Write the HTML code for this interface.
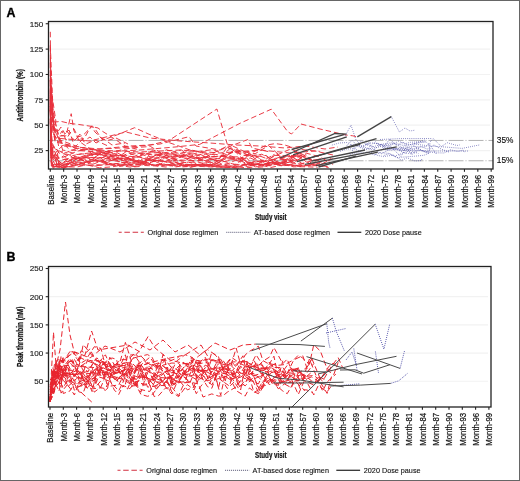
<!DOCTYPE html><html><head><meta charset="utf-8"><style>html,body{margin:0;padding:0;background:#fff;overflow:hidden;width:520px;height:481px;font-family:"Liberation Sans",sans-serif;}svg{display:block;will-change:transform;}</style></head><body><svg width="520" height="481" viewBox="0 0 520 481" font-family="&apos;Liberation Sans&apos;, sans-serif">
<rect x="0" y="0" width="520" height="481" fill="#fff"/>
<line x1="48.5" y1="150.60" x2="490" y2="150.60" stroke="#f2f2f2" stroke-width="1.2"/>
<line x1="48.5" y1="125.22" x2="490" y2="125.22" stroke="#f2f2f2" stroke-width="1.2"/>
<line x1="48.5" y1="99.85" x2="490" y2="99.85" stroke="#f2f2f2" stroke-width="1.2"/>
<line x1="48.5" y1="74.48" x2="490" y2="74.48" stroke="#f2f2f2" stroke-width="1.2"/>
<line x1="48.5" y1="49.10" x2="490" y2="49.10" stroke="#f2f2f2" stroke-width="1.2"/>
<line x1="48.5" y1="23.73" x2="490" y2="23.73" stroke="#f2f2f2" stroke-width="1.2"/>
<line x1="48.5" y1="381.25" x2="488" y2="381.25" stroke="#f2f2f2" stroke-width="1.2"/>
<line x1="48.5" y1="353.06" x2="488" y2="353.06" stroke="#f2f2f2" stroke-width="1.2"/>
<line x1="48.5" y1="324.88" x2="488" y2="324.88" stroke="#f2f2f2" stroke-width="1.2"/>
<line x1="48.5" y1="296.69" x2="488" y2="296.69" stroke="#f2f2f2" stroke-width="1.2"/>
<line x1="48.5" y1="268.51" x2="488" y2="268.51" stroke="#f2f2f2" stroke-width="1.2"/>
<line x1="48.5" y1="140.45" x2="493" y2="140.45" stroke="#a8a8a8" stroke-width="0.9" stroke-dasharray="15 2 1 2"/>
<line x1="48.5" y1="160.75" x2="493" y2="160.75" stroke="#a8a8a8" stroke-width="0.9" stroke-dasharray="15 2 1 2"/>
<text x="496.8" y="143.35" font-size="8.3" fill="#111" stroke="#111" stroke-width="0.15">35%</text>
<text x="496.8" y="163.05" font-size="8.3" fill="#111" stroke="#111" stroke-width="0.15">15%</text>
<polyline points="50.3,31.8 50.7,77.3 51.4,115.7 52.3,125.1 53.4,133.0 54.8,136.8 57.0,138.0 59.2,148.9 63.7,144.5 74.8,148.0 88.2,149.5 97.1,161.5 108.2,153.6 121.6,158.9 134.9,161.4 143.8,162.6 152.7,149.7 163.9,154.9 175.0,155.1 188.4,155.1 197.3,152.9 206.2,157.1 215.1,160.3 224.0,161.7 237.3,158.7 250.7,158.1 259.6,162.1 270.7,165.1 284.1,157.0 295.2,156.2 308.6,158.9 322.0,161.1" fill="none" stroke="#e8303c" stroke-width="0.95" stroke-dasharray="5.5 3"/>
<polyline points="50.3,46.1 50.7,131.4 51.4,161.9 52.3,165.6 53.4,164.5 54.8,164.4 57.0,165.5 59.2,165.7 63.7,162.3 74.8,159.5 88.2,155.6 99.3,153.2 112.6,160.9 126.0,151.8 139.4,157.1 152.7,161.6 166.1,149.7 179.4,153.6 192.8,150.3 206.2,154.0 217.3,162.1 228.4,144.9 237.3,153.8 248.5,164.1 257.4,156.6 266.3,164.5 275.2,152.8 284.1,160.1 297.5,154.4 310.8,159.8" fill="none" stroke="#e8303c" stroke-width="0.95" stroke-dasharray="5.5 3"/>
<polyline points="50.3,62.3 50.7,124.6 51.4,142.2 52.3,146.6 53.4,155.5 54.8,154.6 57.0,150.5 59.2,163.9 63.7,159.4 77.0,156.9 88.2,163.1 99.3,157.8 110.4,165.0 121.6,165.8 130.5,167.1 139.4,166.5 152.7,159.8 161.6,164.5 172.8,165.6 181.7,166.9 195.0,166.1 203.9,164.9 215.1,165.8 226.2,163.9 239.6,164.5 248.5,165.5 261.8,165.9 275.2,164.4 288.6,165.6 301.9,165.2 315.3,164.8 328.6,167.5" fill="none" stroke="#e8303c" stroke-width="0.95" stroke-dasharray="5.5 3"/>
<polyline points="50.3,108.5 50.7,121.8 51.4,140.5 52.3,150.9 53.4,146.6 54.8,147.3 57.0,149.7 59.2,153.2 63.7,153.8 74.8,158.5 88.2,161.9 99.3,154.3 110.4,156.4 123.8,155.3 132.7,162.2 143.8,158.5 157.2,162.3 168.3,153.2 181.7,149.9 195.0,163.4 203.9,157.9 212.8,153.3 226.2,146.6 239.6,153.0 250.7,155.2 259.6,162.2 273.0,155.3 286.3,155.8 299.7,155.2 308.6,159.1 322.0,164.8 330.9,158.0" fill="none" stroke="#e8303c" stroke-width="0.95" stroke-dasharray="5.5 3"/>
<polyline points="50.3,103.2 50.7,138.3 51.4,159.1 52.3,162.7 53.4,166.8 54.8,164.5 57.0,165.0 59.2,163.5 63.7,162.1 72.6,155.6 81.5,153.9 94.8,154.6 108.2,154.9 121.6,156.0 130.5,152.6 143.8,153.7 157.2,154.4 170.5,158.6 183.9,161.2 195.0,154.9 203.9,156.7 215.1,156.8 224.0,156.4 237.3,149.5 250.7,156.7 261.8,154.2 270.7,158.9 281.9,163.5 293.0,159.4 306.4,153.2 319.7,156.8 333.1,164.4" fill="none" stroke="#e8303c" stroke-width="0.95" stroke-dasharray="5.5 3"/>
<polyline points="50.3,91.2 50.7,124.6 51.4,144.2 52.3,153.3 53.4,156.9 54.8,156.1 57.0,155.6 59.2,158.2 63.7,159.6 74.8,158.8 88.2,157.6 101.5,158.0 114.9,159.6 128.2,165.0 137.1,163.0 150.5,158.0 161.6,165.5 175.0,163.8 188.4,164.5 201.7,164.9 212.8,166.3 226.2,157.4 237.3,156.8 250.7,163.4 264.1,164.5 273.0,161.9 286.3,164.8 299.7,163.1 310.8,164.5 319.7,165.6" fill="none" stroke="#e8303c" stroke-width="0.95" stroke-dasharray="5.5 3"/>
<polyline points="50.3,118.6 50.7,134.1 51.4,149.8 52.3,154.5 53.4,155.3 54.8,158.2 57.0,154.4 59.2,166.8 63.7,165.3 77.0,161.0 85.9,157.5 99.3,161.9 110.4,163.8 121.6,165.4 134.9,164.9 148.3,162.7 157.2,160.2 166.1,161.6 177.2,163.8 190.6,166.1 203.9,163.1 212.8,162.4" fill="none" stroke="#e8303c" stroke-width="0.95" stroke-dasharray="5.5 3"/>
<polyline points="50.3,95.8 50.7,128.9 51.4,149.8 52.3,158.7 53.4,159.2 54.8,163.6 57.0,166.2 59.2,167.8 63.7,166.9 77.0,167.0 85.9,164.9 94.8,166.2 106.0,163.4 119.3,166.5 130.5,164.2 141.6,165.4 155.0,165.9 166.1,167.0 179.4,163.5 192.8,164.9 206.2,165.6 219.5,167.2 232.9,167.0 246.2,166.6 257.4,164.2 270.7,167.5 279.6,165.6 290.8,164.6 304.1,167.2" fill="none" stroke="#e8303c" stroke-width="0.95" stroke-dasharray="5.5 3"/>
<polyline points="50.3,88.8 50.7,145.0 51.4,165.7 52.3,166.9 53.4,167.1 54.8,166.5 57.0,167.3 59.2,166.3 63.7,167.8 77.0,158.4 85.9,159.2 97.1,160.1 110.4,160.1 123.8,162.4 134.9,162.9 148.3,164.4 159.4,164.5 170.5,159.3 183.9,162.6 197.3,161.9 210.6,165.1 224.0,161.4 235.1,164.6 246.2,157.4 255.2,167.5 264.1,166.8 275.2,158.3 288.6,160.6 297.5,166.1 308.6,165.6 317.5,165.7" fill="none" stroke="#e8303c" stroke-width="0.95" stroke-dasharray="5.5 3"/>
<polyline points="50.3,108.8 50.7,121.6 51.4,139.6 52.3,144.7 53.4,146.7 54.8,149.8 57.0,149.5 59.2,153.9 63.7,150.1 77.0,154.5 90.4,152.9 103.7,153.0 117.1,158.0 130.5,162.6 139.4,163.4 152.7,165.5 166.1,163.8 175.0,167.1 188.4,164.5 201.7,165.0 215.1,164.7 224.0,167.4 237.3,165.0 250.7,164.3 259.6,165.1 270.7,163.0 281.9,166.0 290.8,164.7" fill="none" stroke="#e8303c" stroke-width="0.95" stroke-dasharray="5.5 3"/>
<polyline points="50.3,83.3 50.7,131.1 51.4,149.7 52.3,155.4 53.4,158.1 54.8,157.1 57.0,164.9 59.2,161.5 63.7,166.4 72.6,164.3 81.5,159.1 94.8,163.6 103.7,159.6 117.1,152.7 126.0,157.6 137.1,157.0 148.3,152.0 157.2,152.2 170.5,157.2 181.7,155.0 195.0,156.8 208.4,161.5 221.8,160.2 232.9,150.9 244.0,155.5 257.4,155.1 268.5,159.3 277.4,164.2 288.6,162.4 301.9,157.8" fill="none" stroke="#e8303c" stroke-width="0.95" stroke-dasharray="5.5 3"/>
<polyline points="50.3,96.9 50.7,134.9 51.4,158.5 52.3,165.9 53.4,167.0 54.8,166.2 57.0,166.5 59.2,164.1 63.7,165.7 74.8,160.0 83.7,155.8 97.1,151.9 110.4,152.2 121.6,156.8 132.7,154.1 141.6,152.8 155.0,155.5 166.1,152.4 175.0,154.3 186.1,152.4 199.5,151.3 212.8,149.6 226.2,154.5 239.6,158.7 252.9,152.2 266.3,145.1 275.2,143.6 284.1,144.8 297.5,149.0 308.6,150.4 319.7,151.4" fill="none" stroke="#e8303c" stroke-width="0.95" stroke-dasharray="5.5 3"/>
<polyline points="50.3,93.6 50.7,115.0 51.4,133.6 52.3,141.3 53.4,145.4 54.8,148.4 57.0,151.0 59.2,150.9 63.7,153.2 77.0,157.2 90.4,157.4 101.5,157.5 114.9,158.3 126.0,160.0 139.4,154.1 152.7,157.3 166.1,153.0 175.0,155.4 188.4,157.3 201.7,160.1 215.1,159.4 226.2,156.2 235.1,149.3 248.5,163.3 261.8,160.7 275.2,163.8 288.6,158.8 297.5,155.0 306.4,162.0 319.7,165.0 333.1,158.4" fill="none" stroke="#e8303c" stroke-width="0.95" stroke-dasharray="5.5 3"/>
<polyline points="50.3,119.2 50.7,144.1 51.4,161.4 52.3,165.9 53.4,165.5 54.8,164.9 57.0,166.9 59.2,167.4 63.7,162.6 74.8,158.3 88.2,155.7 101.5,153.3 114.9,153.8 126.0,156.1 139.4,157.1 150.5,158.7 163.9,156.8 172.8,158.6 186.1,156.2 195.0,157.5 206.2,161.1 219.5,157.7 232.9,146.1 246.2,152.4 255.2,156.7 266.3,155.4 277.4,165.3 288.6,159.2 301.9,153.9" fill="none" stroke="#e8303c" stroke-width="0.95" stroke-dasharray="5.5 3"/>
<polyline points="50.3,101.5 50.7,156.3 51.4,165.7 52.3,165.9 53.4,166.2 54.8,166.1 57.0,167.2 59.2,165.4 63.7,166.8 77.0,165.4 88.2,165.1 99.3,167.8 112.6,166.8 123.8,164.5 134.9,166.4 143.8,162.0 157.2,165.7 168.3,164.8 181.7,165.6 195.0,165.7 208.4,166.3 221.8,166.0 232.9,166.0 246.2,167.9 257.4,166.6 270.7,162.1 281.9,163.8 295.2,165.9 306.4,165.5 317.5,165.0 328.6,166.8" fill="none" stroke="#e8303c" stroke-width="0.95" stroke-dasharray="5.5 3"/>
<polyline points="50.3,110.7 50.7,113.8 51.4,122.6 52.3,131.5 53.4,133.2 54.8,139.9 57.0,137.5 59.2,138.8 63.7,153.4 77.0,148.4 90.4,151.4 103.7,155.9 112.6,159.1 123.8,156.3 132.7,160.6 143.8,163.0 155.0,155.3 163.9,158.1 175.0,155.8 186.1,158.6 199.5,157.2 212.8,159.1 224.0,165.3 237.3,159.5 250.7,165.1 264.1,164.0 275.2,163.9 288.6,160.6 299.7,153.0 313.0,164.6 326.4,160.2" fill="none" stroke="#e8303c" stroke-width="0.95" stroke-dasharray="5.5 3"/>
<polyline points="50.3,121.3 50.7,146.2 51.4,156.2 52.3,165.6 53.4,166.1 54.8,160.5 57.0,158.6 59.2,161.6 63.7,164.8 72.6,158.7 85.9,157.6 99.3,152.0 110.4,152.8 123.8,149.2 137.1,147.4 150.5,146.5 163.9,154.4 177.2,159.7 188.4,160.5 201.7,160.6 215.1,164.3 226.2,158.5 239.6,158.2 252.9,154.7 264.1,161.1 277.4,154.8 290.8,148.9 304.1,155.1 317.5,163.5" fill="none" stroke="#e8303c" stroke-width="0.95" stroke-dasharray="5.5 3"/>
<polyline points="50.3,105.8 50.7,127.2 51.4,142.4 52.3,149.6 53.4,155.4 54.8,157.1 57.0,157.8 59.2,158.5 63.7,155.9 77.0,165.3 90.4,160.9 101.5,152.5 112.6,159.4 126.0,160.9 137.1,157.2 150.5,152.6 163.9,152.9 177.2,154.5 188.4,160.2 201.7,157.7 210.6,156.9 224.0,155.8 235.1,151.6 246.2,152.3 255.2,153.7 268.5,145.6 281.9,157.5 290.8,156.6 304.1,151.2" fill="none" stroke="#e8303c" stroke-width="0.95" stroke-dasharray="5.5 3"/>
<polyline points="50.3,106.1 50.7,144.9 51.4,154.2 52.3,156.5 53.4,158.1 54.8,154.4 57.0,159.5 59.2,157.2 63.7,157.2 77.0,151.2 90.4,148.7 101.5,150.7 114.9,158.6 128.2,158.5 141.6,163.7 150.5,158.9 163.9,162.2 172.8,161.5 186.1,165.5 199.5,166.4 212.8,167.0 226.2,167.3 239.6,168.1" fill="none" stroke="#e8303c" stroke-width="0.95" stroke-dasharray="5.5 3"/>
<polyline points="50.3,99.5 50.7,141.3 51.4,162.7 52.3,167.0 53.4,168.2 54.8,166.9 57.0,165.9 59.2,166.3 63.7,168.0 77.0,164.7 88.2,161.2 97.1,160.4 106.0,161.8 117.1,159.1 128.2,157.8 141.6,162.9 150.5,157.4 159.4,154.9 172.8,161.5 186.1,152.8 197.3,154.9 210.6,153.7 224.0,155.6 237.3,158.2 250.7,163.6 261.8,164.8 273.0,162.3 281.9,162.9 295.2,161.7 306.4,154.2" fill="none" stroke="#e8303c" stroke-width="0.95" stroke-dasharray="5.5 3"/>
<polyline points="50.3,102.3 50.7,132.9 51.4,145.7 52.3,152.4 53.4,156.3 54.8,155.5 57.0,164.8 59.2,166.8 63.7,164.6 72.6,162.5 85.9,161.8 99.3,160.5 112.6,164.2 126.0,164.3 139.4,160.4 148.3,163.3 157.2,160.1 170.5,160.1 183.9,165.5 197.3,164.0 208.4,164.7 221.8,164.9 235.1,166.8 244.0,164.8 257.4,164.6 268.5,165.6 281.9,162.1 293.0,166.8 306.4,166.7 317.5,167.3" fill="none" stroke="#e8303c" stroke-width="0.95" stroke-dasharray="5.5 3"/>
<polyline points="50.3,80.2 50.7,128.6 51.4,151.9 52.3,157.4 53.4,158.2 54.8,158.2 57.0,164.6 59.2,164.5 63.7,165.1 77.0,163.2 88.2,165.3 101.5,165.1 114.9,163.6 126.0,165.0 134.9,166.5 143.8,163.5 152.7,164.7 166.1,164.7 179.4,165.1 190.6,167.4 199.5,165.0 210.6,164.9 221.8,166.9 235.1,167.6 244.0,164.9 257.4,164.5 270.7,165.8 279.6,163.0 288.6,160.7 301.9,165.1" fill="none" stroke="#e8303c" stroke-width="0.95" stroke-dasharray="5.5 3"/>
<polyline points="50.3,109.6 50.7,130.6 51.4,144.6 52.3,149.0 53.4,151.7 54.8,151.5 57.0,159.4 59.2,161.3 63.7,164.2 74.8,161.6 85.9,163.2 99.3,165.1 110.4,164.7 123.8,162.3 134.9,159.1 143.8,161.5 152.7,158.4 166.1,157.8 175.0,157.1 188.4,154.2 199.5,157.9 212.8,156.7 224.0,155.9 237.3,159.4 246.2,161.8 259.6,163.6 268.5,160.2 281.9,158.6 295.2,161.3 306.4,155.8" fill="none" stroke="#e8303c" stroke-width="0.95" stroke-dasharray="5.5 3"/>
<polyline points="50.3,77.8 50.7,119.4 51.4,150.4 52.3,163.6 53.4,161.1 54.8,164.4 57.0,164.4 59.2,167.3 63.7,168.0 77.0,164.1 85.9,163.1 94.8,160.4 106.0,162.9 119.3,157.9 128.2,158.7 141.6,162.6 150.5,159.8 161.6,160.9 175.0,164.2 188.4,162.1 197.3,164.6 210.6,164.8 224.0,158.2 235.1,159.8 246.2,164.3 255.2,161.1 266.3,161.4 277.4,157.8 290.8,155.4 301.9,163.6 313.0,160.4 324.2,158.1" fill="none" stroke="#e8303c" stroke-width="0.95" stroke-dasharray="5.5 3"/>
<polyline points="50.3,60.0 52.0,95.0 56.0,122.0 60.6,121.3 69.2,123.3 79.0,124.5 90.4,126.2 98.0,128.0 102.0,131.0 113.0,138.0 125.0,146.0 140.0,150.0" fill="none" stroke="#e8303c" stroke-width="0.95" stroke-dasharray="5.5 3"/>
<polyline points="50.3,45.0 53.0,110.0 58.0,135.0 66.0,136.0 71.2,113.7 74.0,131.0 80.0,142.0 92.0,150.0 110.0,152.0" fill="none" stroke="#e8303c" stroke-width="0.95" stroke-dasharray="5.5 3"/>
<polyline points="50.3,70.0 53.0,115.0 60.0,140.0 76.0,146.0 85.0,137.0 91.3,125.8 95.0,132.0 103.0,140.0 117.3,134.8 134.6,127.7 148.0,133.8 168.8,142.5 190.0,150.0 215.0,155.0" fill="none" stroke="#e8303c" stroke-width="0.95" stroke-dasharray="5.5 3"/>
<polyline points="50.3,80.0 54.0,130.0 64.0,146.0 100.0,149.0 130.0,146.0 150.0,145.0 168.8,140.6 216.9,109.0 228.5,148.3 245.0,152.0 262.0,150.0" fill="none" stroke="#e8303c" stroke-width="0.95" stroke-dasharray="5.5 3"/>
<polyline points="50.3,90.0 54.0,135.0 70.0,150.0 100.0,152.0 140.0,150.0 175.0,147.0 199.6,144.4 240.0,123.3 271.3,109.2 287.7,131.7 291.5,134.0 301.0,124.0 320.0,129.0 346.0,135.0 352.7,135.8 357.3,136.9" fill="none" stroke="#e8303c" stroke-width="0.95" stroke-dasharray="5.5 3"/>
<polyline points="50.3,100.0 55.0,140.0 80.0,150.0 120.0,148.0 160.0,144.0 189.0,136.7 196.0,146.0 220.0,150.0 247.7,139.6 252.0,148.0 270.0,152.0" fill="none" stroke="#e8303c" stroke-width="0.95" stroke-dasharray="5.5 3"/>
<polyline points="50.3,75.0 55.0,138.0 90.0,141.0 126.0,132.0 150.0,138.0 180.0,141.0 210.0,143.0 236.0,145.0 260.0,146.0 285.0,148.0 305.0,146.0 325.0,149.0 338.0,147.0" fill="none" stroke="#e8303c" stroke-width="0.95" stroke-dasharray="5.5 3"/>
<polyline points="50.3,85.0 55.0,142.0 95.0,150.0 140.0,152.0 180.0,150.0 220.0,153.0 260.0,150.0 290.0,153.0 315.0,151.0 333.0,155.0" fill="none" stroke="#e8303c" stroke-width="0.95" stroke-dasharray="5.5 3"/>
<polyline points="50.3,95.0 53.0,120.0 56.0,130.0 60.0,136.0 63.5,135.8 67.0,131.0 71.0,137.0 75.0,140.4 80.0,134.0 84.0,141.0 90.0,137.0 96.0,143.0 104.0,139.0 112.0,145.0 125.0,143.0" fill="none" stroke="#e8303c" stroke-width="0.95" stroke-dasharray="5.5 3"/>
<polyline points="50.3,110.0 54.0,126.0 58.0,138.0 62.0,131.0 66.0,140.0 70.0,133.0 74.0,129.0 78.0,137.0 83.1,135.2 92.4,126.0 95.8,130.0 100.4,137.0 106.0,141.0 116.0,138.0 128.0,144.0" fill="none" stroke="#e8303c" stroke-width="0.95" stroke-dasharray="5.5 3"/>
<polyline points="50.3,120.0 53.5,128.0 57.0,133.0 61.0,127.0 65.0,134.0 69.0,130.0 73.0,142.0 79.0,136.0 86.0,144.0 95.0,140.0 108.0,146.0" fill="none" stroke="#e8303c" stroke-width="0.95" stroke-dasharray="5.5 3"/>
<polyline points="391.3,116.6 399.4,132.0 405.0,128.0 410.0,131.0 414.7,130.2" fill="none" stroke="#5050a8" stroke-width="0.8" stroke-dasharray="0.8 1.3"/>
<polyline points="344.0,138.0 351.0,125.2 356.0,140.0 362.0,146.0 370.0,143.0" fill="none" stroke="#5050a8" stroke-width="0.8" stroke-dasharray="0.8 1.3"/>
<polyline points="346.5,146.0 352.0,140.3 358.8,147.2 367.2,149.4 373.6,142.9 379.0,144.0 384.1,146.4 389.9,139.0 396.8,146.1 402.5,141.9 407.9,145.2 416.7,143.3 425.2,141.7 426.3,142.8" fill="none" stroke="#5050a8" stroke-width="0.8" stroke-dasharray="0.8 1.3"/>
<polyline points="352.3,153.3 361.0,152.9 370.7,152.3 377.5,155.4 383.6,156.6 393.3,155.1 401.6,160.3 407.1,157.8 414.9,161.0 421.5,160.6 421.8,158.9" fill="none" stroke="#5050a8" stroke-width="0.8" stroke-dasharray="0.8 1.3"/>
<polyline points="331.9,145.1 339.1,143.0 347.5,142.5 355.6,148.1 361.1,141.1 366.8,144.8 371.9,147.1 381.6,144.3 391.1,142.8 397.4,143.9 403.2,145.4 410.9,144.5 418.0,142.4 425.0,140.0" fill="none" stroke="#5050a8" stroke-width="0.8" stroke-dasharray="0.8 1.3"/>
<polyline points="384.8,148.8 390.2,145.9 395.4,151.4 401.0,156.4 406.1,147.5 411.2,154.0 418.8,148.8 426.7,152.4 431.7,147.6 436.4,154.0" fill="none" stroke="#5050a8" stroke-width="0.8" stroke-dasharray="0.8 1.3"/>
<polyline points="375.5,141.7 385.0,149.6 391.8,150.3 400.5,147.2 408.7,149.2 416.7,148.1" fill="none" stroke="#5050a8" stroke-width="0.8" stroke-dasharray="0.8 1.3"/>
<polyline points="340.1,151.3 346.2,149.1 353.9,148.6 360.1,151.4 366.3,149.1 372.8,148.3 381.2,153.8 390.1,149.2 398.9,150.0 405.2,150.7 412.7,152.8" fill="none" stroke="#5050a8" stroke-width="0.8" stroke-dasharray="0.8 1.3"/>
<polyline points="349.1,156.5 355.8,144.7 364.8,147.2 372.7,150.1 381.4,144.1 386.5,149.4 394.0,148.0 403.6,149.3 409.3,150.1 418.6,153.6" fill="none" stroke="#5050a8" stroke-width="0.8" stroke-dasharray="0.8 1.3"/>
<polyline points="381.1,150.0 387.3,147.9 395.8,148.9 405.2,153.3 413.6,145.8 423.2,151.5 428.9,153.4 430.0,143.3" fill="none" stroke="#5050a8" stroke-width="0.8" stroke-dasharray="0.8 1.3"/>
<polyline points="366.6,143.3 375.4,147.9 383.0,145.9 389.1,144.6 394.5,143.4 404.1,148.9 411.6,146.2 419.5,146.9 425.9,146.8 433.2,138.5 441.3,146.6 447.2,142.7 456.9,145.5 459.8,144.9" fill="none" stroke="#5050a8" stroke-width="0.8" stroke-dasharray="0.8 1.3"/>
<polyline points="350.8,144.8 356.0,145.1 363.1,147.2 368.4,143.0 373.5,143.0 383.4,145.1 390.1,145.7 398.5,141.2 404.7,143.8 410.5,142.3 418.4,141.8 426.3,142.1 430.8,146.6" fill="none" stroke="#5050a8" stroke-width="0.8" stroke-dasharray="0.8 1.3"/>
<polyline points="366.6,151.9 374.2,155.0 380.0,152.7 388.6,153.3 394.4,156.2 404.2,152.7 412.6,154.1 419.3,150.2 429.0,151.9 436.5,152.8 444.0,153.0 450.4,149.8 457.7,151.4 463.1,150.1 465.0,153.0" fill="none" stroke="#5050a8" stroke-width="0.8" stroke-dasharray="0.8 1.3"/>
<polyline points="383.3,146.3 392.3,147.9 398.6,149.9 405.7,145.8 413.5,150.2 420.9,146.5 427.3,149.1 434.0,145.0 440.0,148.5 448.9,152.1" fill="none" stroke="#5050a8" stroke-width="0.8" stroke-dasharray="0.8 1.3"/>
<polyline points="383.8,155.5 389.4,153.6 396.8,157.5 405.8,156.9 415.6,156.1 423.8,155.3 429.9,152.9" fill="none" stroke="#5050a8" stroke-width="0.8" stroke-dasharray="0.8 1.3"/>
<polyline points="380.0,139.5 400.0,138.6 432.0,138.5" fill="none" stroke="#5050a8" stroke-width="0.8" stroke-dasharray="0.8 1.3"/>
<polyline points="413.8,144.0 430.0,146.0 445.0,147.0 462.0,148.4 479.6,144.9" fill="none" stroke="#5050a8" stroke-width="0.8" stroke-dasharray="0.8 1.3"/>
<polyline points="400.0,150.0 430.0,151.0 469.0,151.0" fill="none" stroke="#5050a8" stroke-width="0.8" stroke-dasharray="0.8 1.3"/>
<polyline points="357.3,136.9 391.3,116.6" fill="none" stroke="#454545" stroke-width="1.35"/>
<polyline points="291.6,149.5 344.0,134.6" fill="none" stroke="#454545" stroke-width="1.35"/>
<polyline points="293.0,154.9 346.8,136.8" fill="none" stroke="#454545" stroke-width="1.35"/>
<polyline points="297.0,161.6 376.5,138.7" fill="none" stroke="#454545" stroke-width="1.35"/>
<polyline points="305.0,164.3 396.7,146.8" fill="none" stroke="#454545" stroke-width="1.35"/>
<polyline points="315.8,165.6 377.8,152.2" fill="none" stroke="#454545" stroke-width="1.35"/>
<polyline points="318.5,167.0 356.0,156.2" fill="none" stroke="#454545" stroke-width="1.35"/>
<polyline points="300.0,160.6 360.0,144.4" fill="none" stroke="#454545" stroke-width="1.35"/>
<polyline points="311.5,161.1 365.0,150.0" fill="none" stroke="#454545" stroke-width="1.35"/>
<polyline points="280.0,158.0 335.0,133.5 346.5,134.2" fill="none" stroke="#454545" stroke-width="1.35"/>
<polyline points="50.0,392.2 54.3,391.4 56.2,384.5 58.9,362.2 61.1,372.8 63.3,369.9 67.7,381.6 76.6,373.2 81.0,350.8 85.5,353.3 89.9,348.9 94.3,358.1 101.0,363.3 109.8,367.7 114.3,366.6 123.2,375.3 127.6,372.8 132.0,371.2 136.4,365.2 140.9,365.9 149.8,362.6 156.4,367.6 160.8,367.7 169.7,386.6 174.1,370.2 178.6,372.1 183.0,376.3 191.9,364.7 196.3,366.5 200.7,371.6 205.2,370.3 209.6,383.7 214.0,374.3 218.5,373.0 222.9,367.6 227.3,369.5 234.0,375.1 240.6,362.6 245.1,359.9 249.5,368.4 253.9,360.0 258.4,369.5 267.2,371.9 273.9,363.9 278.3,365.3 285.0,364.5 293.8,359.8 298.3,355.2 302.7,358.1 309.4,364.2 313.8,344.7 320.4,351.1 327.1,368.8 331.5,370.6 338.2,368.9" fill="none" stroke="#e8242e" stroke-width="1.0" stroke-dasharray="5.5 3"/>
<polyline points="50.0,401.5 52.3,372.0 56.2,377.4 58.9,373.8 61.1,379.4 63.3,370.5 67.7,374.5 76.6,370.6 83.2,373.2 87.7,381.7 92.1,370.8 96.6,369.5 105.4,372.7 109.8,357.2 114.3,364.8 123.2,365.5 129.8,365.3 134.2,370.4 138.7,368.7 147.5,370.3 154.2,374.7 158.6,364.2 167.5,374.6 171.9,366.7 180.8,372.2 189.7,375.7 196.3,379.5 205.2,367.6 211.8,372.1 218.5,358.9 227.3,375.1 236.2,377.2 240.6,390.0 245.1,366.6 253.9,367.8 258.4,370.4 267.2,367.8 273.9,356.2 278.3,376.4 282.8,381.6 291.6,370.3 298.3,369.3 304.9,379.0" fill="none" stroke="#e8242e" stroke-width="1.0" stroke-dasharray="5.5 3"/>
<polyline points="50.0,401.5 53.6,394.1 56.2,384.7 58.9,391.3 61.1,382.6 63.3,393.5 70.0,390.9 74.4,383.6 78.8,391.8 83.2,393.0 92.1,367.7 96.6,381.9 101.0,388.4 105.4,390.3 109.8,386.2 118.7,384.9 123.2,376.1 127.6,373.7 132.0,382.3 136.4,385.8 140.9,394.4 147.5,396.3 152.0,394.9 160.8,383.8 165.3,382.6 169.7,376.6 178.6,372.7 187.4,379.9 194.1,364.9 203.0,379.3 207.4,386.6 211.8,388.3 216.2,376.4 222.9,381.4 227.3,388.5 234.0,382.2 242.9,373.7 249.5,379.9 258.4,383.9 262.8,374.9 269.5,371.6 273.9,370.5 280.5,383.7 285.0,381.3 291.6,379.5 298.3,394.5 304.9,379.4" fill="none" stroke="#e8242e" stroke-width="1.0" stroke-dasharray="5.5 3"/>
<polyline points="50.0,401.5 52.8,394.4 56.2,380.3 58.9,383.3 61.1,377.6 63.3,369.2 70.0,362.7 74.4,367.3 81.0,373.3 87.7,371.4 96.6,357.9 105.4,363.3 109.8,380.0 114.3,363.8 118.7,366.9 125.4,342.4 132.0,363.1 138.7,369.4 145.3,373.9 149.8,370.4 158.6,376.6 165.3,386.6 171.9,394.0 176.4,383.8 180.8,382.1 185.2,381.8 191.9,360.0 200.7,360.9 205.2,358.9 209.6,370.8 214.0,369.7 222.9,373.3 231.8,374.9 240.6,367.9 249.5,366.0 258.4,367.5 267.2,369.4 271.7,383.1 278.3,383.5 287.2,374.8 291.6,376.8 298.3,381.1 302.7,373.9 311.6,380.9 318.2,382.0 327.1,370.1 333.7,374.7 338.2,362.4" fill="none" stroke="#e8242e" stroke-width="1.0" stroke-dasharray="5.5 3"/>
<polyline points="50.0,398.8 54.2,372.4 56.2,378.3 58.9,374.8 61.1,379.4 63.3,377.4 67.7,362.6 74.4,359.4 78.8,367.1 83.2,344.5 89.9,352.9 96.6,361.2 101.0,361.2 105.4,364.1 112.1,366.5 120.9,366.4 129.8,363.6 134.2,385.7 138.7,375.9 143.1,376.5 149.8,379.2 154.2,380.1 158.6,371.6 163.1,354.4 167.5,370.1 176.4,374.0 180.8,363.9 189.7,363.2 198.5,356.2 207.4,349.5 214.0,353.9 218.5,356.7 222.9,370.6 231.8,373.9 236.2,373.0 240.6,365.9 249.5,380.1 253.9,375.5 258.4,374.3 262.8,366.2 271.7,372.7 276.1,371.1 280.5,377.4 289.4,371.8 296.1,370.2 300.5,384.9 307.1,372.6 313.8,363.5" fill="none" stroke="#e8242e" stroke-width="1.0" stroke-dasharray="5.5 3"/>
<polyline points="50.0,401.5 54.4,364.5 56.2,363.5 58.9,361.5 61.1,370.4 63.3,356.9 67.7,357.6 72.2,351.2 76.6,358.4 81.0,363.1 85.5,360.4 94.3,346.7 101.0,348.5 107.6,375.1 112.1,367.5 120.9,359.6 127.6,359.7 134.2,354.1 138.7,356.6 147.5,354.6 152.0,357.1 156.4,366.1 160.8,360.8 165.3,360.1 169.7,361.1 178.6,357.4" fill="none" stroke="#e8242e" stroke-width="1.0" stroke-dasharray="5.5 3"/>
<polyline points="50.0,401.5 52.4,392.2 56.2,370.8 58.9,366.3 61.1,370.9 63.3,369.1 70.0,373.7 74.4,370.0 78.8,371.8 83.2,378.7 87.7,389.2 92.1,378.8 96.6,376.3 105.4,378.8 112.1,374.9 120.9,371.4 129.8,382.8 138.7,381.3 143.1,371.6 147.5,367.3 154.2,364.4 163.1,371.0 167.5,371.2 171.9,385.6 176.4,383.0 183.0,374.5 191.9,373.9 196.3,359.9 203.0,370.9 211.8,378.6 218.5,374.1 222.9,373.1 227.3,374.4 231.8,378.6 240.6,377.2 245.1,373.6 249.5,367.1 258.4,365.6 262.8,361.3 269.5,357.0 273.9,347.5 282.8,363.7 287.2,359.1 291.6,370.7 296.1,376.1 302.7,374.6 309.4,383.1 313.8,384.9 318.2,376.3 327.1,380.8" fill="none" stroke="#e8242e" stroke-width="1.0" stroke-dasharray="5.5 3"/>
<polyline points="50.0,401.5 53.7,384.4 56.2,369.2 58.9,374.2 61.1,355.7 63.3,360.9 67.7,379.8 76.6,384.4 85.5,376.4 89.9,377.4 94.3,375.3 98.8,369.8 107.6,359.6 112.1,358.0 116.5,359.3 120.9,376.8 125.4,384.2 129.8,365.8 138.7,367.7 145.3,377.4 154.2,380.6 163.1,385.9 167.5,378.4 171.9,378.1 178.6,382.9 183.0,374.5 189.7,383.3 196.3,367.9 200.7,374.3 207.4,369.0 214.0,369.1 218.5,388.0 222.9,369.3 231.8,357.5 240.6,363.8 247.3,366.7 251.7,363.4 256.1,354.8 260.6,362.0 269.5,379.7 278.3,385.6 282.8,370.6 287.2,374.4" fill="none" stroke="#e8242e" stroke-width="1.0" stroke-dasharray="5.5 3"/>
<polyline points="50.0,387.3 52.4,372.9 56.2,380.8 58.9,373.2 61.1,370.7 63.3,361.6 70.0,351.4 76.6,352.8 81.0,365.8 89.9,360.4 94.3,361.3 98.8,360.2 103.2,374.7 109.8,375.0 118.7,378.2 127.6,370.3 132.0,358.5 140.9,356.0 149.8,364.7 154.2,364.4 158.6,362.9 165.3,367.6 174.1,371.4 180.8,370.5 185.2,366.4 191.9,359.7 196.3,377.5 200.7,361.6 205.2,357.2 211.8,370.5 218.5,365.2 225.1,381.8 229.5,363.0 234.0,366.2 238.4,362.4 247.3,361.5 251.7,374.6 256.1,361.7 260.6,373.4 269.5,374.9 278.3,377.7 282.8,360.8" fill="none" stroke="#e8242e" stroke-width="1.0" stroke-dasharray="5.5 3"/>
<polyline points="50.0,401.5 54.1,391.8 56.2,381.0 58.9,382.6 61.1,383.7 63.3,387.7 70.0,375.3 74.4,381.6 78.8,387.0 83.2,382.8 87.7,374.4 94.3,392.1 101.0,386.9 105.4,376.2 114.3,377.7 118.7,378.3 123.2,379.2 132.0,385.3 140.9,383.5 149.8,384.8 154.2,396.6 158.6,395.6 165.3,388.2 169.7,387.8 174.1,380.1 183.0,382.7 191.9,382.5 198.5,384.0 203.0,397.0 211.8,393.9 218.5,396.1 222.9,395.8 227.3,392.2 236.2,386.9 242.9,377.6 247.3,369.2 253.9,392.5 262.8,387.4 267.2,374.2 273.9,383.4 282.8,391.0 287.2,393.7 291.6,386.1 298.3,376.4 307.1,382.5 313.8,394.9 318.2,385.7 327.1,391.8 331.5,385.9 335.9,385.2" fill="none" stroke="#e8242e" stroke-width="1.0" stroke-dasharray="5.5 3"/>
<polyline points="50.0,401.5 54.1,372.5 56.2,361.7 58.9,380.0 61.1,378.0 63.3,376.1 67.7,367.2 74.4,390.4 78.8,386.6 87.7,383.9 96.6,378.7 101.0,360.2 107.6,367.7 112.1,373.7 120.9,372.3 127.6,367.3 134.2,374.1 138.7,362.7 143.1,380.2 147.5,368.8 156.4,367.9 160.8,365.2 165.3,359.7 174.1,371.2" fill="none" stroke="#e8242e" stroke-width="1.0" stroke-dasharray="5.5 3"/>
<polyline points="50.0,401.5 53.3,385.9 56.2,375.2 58.9,379.9 61.1,393.1 63.3,389.7 72.2,378.7 76.6,372.9 81.0,386.1 87.7,381.4 92.1,377.4 96.6,369.6 105.4,371.2 109.8,373.9 114.3,378.7 123.2,374.8 127.6,370.7 132.0,376.2 136.4,379.6 140.9,365.3 149.8,372.8 154.2,382.0 158.6,374.7 165.3,386.4 169.7,390.5 174.1,376.6 178.6,377.4 187.4,371.7 194.1,369.3 198.5,380.2 205.2,375.2 214.0,379.9 222.9,377.4 227.3,375.9 231.8,377.9 238.4,388.2 245.1,380.4 253.9,379.1 262.8,374.6 269.5,384.9 273.9,379.7 278.3,380.6 287.2,382.7 291.6,382.4 296.1,382.1 304.9,390.7" fill="none" stroke="#e8242e" stroke-width="1.0" stroke-dasharray="5.5 3"/>
<polyline points="50.0,392.4 53.7,373.2 56.2,367.5 58.9,364.2 61.1,377.4 63.3,373.3 67.7,363.6 72.2,373.3 76.6,376.1 85.5,380.1 92.1,371.6 96.6,385.7 103.2,378.4 107.6,370.4 116.5,370.9 123.2,363.3 129.8,362.5 138.7,370.9 145.3,378.5 152.0,382.3 156.4,372.1 163.1,372.3 171.9,370.4 180.8,377.6 189.7,364.8 194.1,361.2 198.5,360.5 205.2,374.7 211.8,352.3 216.2,355.8 225.1,372.3 229.5,363.9 234.0,368.5 240.6,375.7 245.1,378.8 253.9,370.4 262.8,368.1 271.7,367.8 276.1,371.0 280.5,378.7 285.0,372.3 293.8,373.4 298.3,373.4 307.1,367.1 313.8,355.9" fill="none" stroke="#e8242e" stroke-width="1.0" stroke-dasharray="5.5 3"/>
<polyline points="50.0,401.2 53.1,386.0 56.2,368.0 58.9,373.9 61.1,367.5 63.3,372.9 67.7,386.7 76.6,378.6 81.0,374.5 87.7,381.0 92.1,391.6 98.8,362.5 105.4,354.8 109.8,364.6 118.7,368.7 127.6,366.8 132.0,368.6 136.4,385.4 140.9,392.2 145.3,378.3 149.8,367.9 154.2,365.5 163.1,366.2 171.9,373.0 176.4,368.6 183.0,362.1 189.7,367.0 198.5,363.6 207.4,362.5 211.8,376.7 216.2,368.6 220.7,379.9 229.5,386.1 234.0,369.5 238.4,387.0 245.1,383.7 249.5,373.8 253.9,373.4 260.6,379.1 265.0,385.9 273.9,377.9 280.5,374.1 289.4,377.1" fill="none" stroke="#e8242e" stroke-width="1.0" stroke-dasharray="5.5 3"/>
<polyline points="50.0,401.5 52.9,383.6 56.2,381.7 58.9,376.0 61.1,373.1 63.3,369.0 72.2,358.7 78.8,377.9 87.7,382.2 96.6,376.4 103.2,363.0 109.8,362.9 114.3,372.4 118.7,383.6 127.6,389.0 132.0,378.4 140.9,389.6 149.8,391.5 156.4,378.7 160.8,380.4 165.3,381.8 169.7,384.5 178.6,395.7 183.0,385.7 187.4,381.0 191.9,382.1 196.3,393.7 200.7,386.4 209.6,375.8 214.0,367.8 222.9,368.5 231.8,371.0 236.2,366.5 242.9,355.8 247.3,376.3 251.7,366.5 256.1,364.8 260.6,364.7 267.2,368.2 276.1,367.5 282.8,367.4 287.2,373.7 291.6,367.7 298.3,372.7 307.1,378.6 311.6,376.9 318.2,381.0 322.7,391.1 327.1,382.0 335.9,374.1" fill="none" stroke="#e8242e" stroke-width="1.0" stroke-dasharray="5.5 3"/>
<polyline points="50.0,401.5 53.5,387.9 56.2,373.8 58.9,359.3 61.1,367.3 63.3,370.0 72.2,370.3 76.6,377.4 81.0,379.3 87.7,359.4 94.3,363.3 98.8,373.0 103.2,372.4 107.6,374.0 114.3,374.3 118.7,371.6 127.6,381.1 134.2,387.9 138.7,378.8 145.3,375.0 149.8,380.4 154.2,374.7 158.6,375.6 167.5,370.2 171.9,370.9 176.4,361.2 185.2,354.7 191.9,357.3 196.3,363.3 205.2,359.7 209.6,359.0 216.2,360.7 220.7,359.2 225.1,367.2 231.8,362.0 240.6,361.6 247.3,362.3 256.1,367.0 262.8,370.9 271.7,365.2 276.1,370.8 285.0,377.6 293.8,359.9 302.7,355.6 307.1,368.5 311.6,358.0 320.4,379.2 327.1,368.7 331.5,363.4 335.9,364.3" fill="none" stroke="#e8242e" stroke-width="1.0" stroke-dasharray="5.5 3"/>
<polyline points="50.0,397.0 53.3,381.3 56.2,371.5 58.9,374.7 61.1,379.0 63.3,373.0 72.2,374.1 81.0,374.7 85.5,366.5 94.3,373.5 103.2,367.7 107.6,387.5 112.1,370.6 116.5,373.2 125.4,354.8 132.0,384.3 136.4,367.6 143.1,359.4 149.8,366.6 158.6,377.2 163.1,374.2 167.5,367.1 171.9,384.3 180.8,366.9 185.2,373.6 191.9,368.2 196.3,375.5 200.7,378.3 205.2,380.4 209.6,380.4 214.0,375.3 220.7,370.4 227.3,365.4 234.0,378.5 242.9,373.6 247.3,362.4 251.7,374.8 260.6,376.8 269.5,362.0 276.1,374.5 280.5,374.6 287.2,365.4 296.1,371.6 304.9,373.8" fill="none" stroke="#e8242e" stroke-width="1.0" stroke-dasharray="5.5 3"/>
<polyline points="50.0,400.9 52.3,381.8 56.2,377.5 58.9,376.5 61.1,378.2 63.3,371.5 67.7,367.3 74.4,376.6 81.0,371.6 85.5,387.2 92.1,388.9 101.0,387.7 105.4,388.7 109.8,379.5 114.3,390.0 118.7,394.5 123.2,385.4 129.8,388.7 134.2,383.2 138.7,380.4 143.1,385.0 147.5,385.0 154.2,375.4 160.8,377.6 167.5,378.1 176.4,373.7 180.8,382.4 187.4,389.9 194.1,386.9 198.5,370.4 207.4,370.8 211.8,358.6 216.2,362.5 225.1,364.8 229.5,376.6 236.2,390.7 245.1,396.1 249.5,387.9 253.9,391.7 258.4,393.7 267.2,381.7 271.7,378.2 278.3,388.8 287.2,381.7 291.6,369.9 298.3,368.0 302.7,379.6 311.6,372.3" fill="none" stroke="#e8242e" stroke-width="1.0" stroke-dasharray="5.5 3"/>
<polyline points="50.0,401.5 53.7,374.5 56.2,387.1 58.9,381.7 61.1,384.9 63.3,370.1 70.0,381.1 78.8,370.8 85.5,383.0 94.3,387.4 101.0,370.6 105.4,379.7 109.8,381.3 118.7,390.8 123.2,381.9 127.6,368.3 132.0,375.1 140.9,378.0 145.3,377.3 152.0,382.8 156.4,389.2 160.8,382.0 167.5,381.5 171.9,392.2 178.6,396.6 187.4,384.6 194.1,389.9 198.5,379.2 205.2,371.0 211.8,374.6 216.2,380.3 220.7,395.1 225.1,374.5 229.5,368.9 236.2,379.0 245.1,385.9 253.9,377.1 260.6,392.2 265.0,378.3 273.9,370.3 282.8,383.1 291.6,387.8 296.1,368.1 304.9,376.6 313.8,375.4 318.2,378.8 327.1,393.4 331.5,376.6" fill="none" stroke="#e8242e" stroke-width="1.0" stroke-dasharray="5.5 3"/>
<polyline points="50.0,400.8 53.7,373.4 56.2,377.0 58.9,368.9 61.1,376.7 63.3,380.3 70.0,388.1 74.4,395.0 78.8,382.6 87.7,377.3 96.6,367.8 103.2,360.2 107.6,370.0 114.3,368.7 118.7,371.7 127.6,368.7 132.0,379.6 136.4,386.2 140.9,371.7 147.5,366.5 154.2,381.8 160.8,382.2 165.3,378.1 169.7,377.4 178.6,382.9 183.0,372.1 191.9,368.5 200.7,365.3 205.2,378.7 211.8,384.9 220.7,366.9 227.3,377.8 231.8,380.6 238.4,372.1 247.3,375.6 251.7,378.4 258.4,392.2 262.8,384.0 267.2,378.3 271.7,379.6 278.3,383.0 285.0,381.9 289.4,377.2 296.1,379.0 300.5,389.5 307.1,390.0 311.6,392.5" fill="none" stroke="#e8242e" stroke-width="1.0" stroke-dasharray="5.5 3"/>
<polyline points="50.0,398.3 53.4,371.7 56.2,372.9 58.9,377.6 61.1,383.6 63.3,373.8 67.7,372.4 72.2,372.4 76.6,364.0 81.0,366.5 85.5,374.1 94.3,381.3 103.2,367.8 107.6,370.0 116.5,380.6 123.2,373.9 127.6,355.4 134.2,354.6 143.1,367.7 149.8,385.4 154.2,386.3 158.6,384.1 167.5,377.1 176.4,378.1 183.0,373.0 187.4,376.7 194.1,374.8 198.5,385.9" fill="none" stroke="#e8242e" stroke-width="1.0" stroke-dasharray="5.5 3"/>
<polyline points="50.0,401.5 52.8,367.6 56.2,379.4 58.9,366.3 61.1,366.5 63.3,367.1 70.0,358.3 76.6,369.7 83.2,365.4 87.7,372.2 94.3,361.5 101.0,376.0 107.6,373.6 112.1,376.2 116.5,381.6 125.4,368.0 134.2,372.6 140.9,367.2 147.5,387.1 156.4,386.0 165.3,385.2 169.7,374.5 174.1,384.8 178.6,374.6 185.2,365.1 189.7,367.6 194.1,368.3 198.5,372.7 207.4,378.5 216.2,374.6 220.7,371.0 229.5,359.5 234.0,364.4 240.6,373.5 245.1,365.7 253.9,376.6 258.4,389.1 262.8,381.0 271.7,381.0 278.3,370.7 282.8,371.4 289.4,381.3 293.8,381.3 302.7,379.7 309.4,359.0 316.0,375.4 322.7,381.1 331.5,366.1 338.2,357.6 342.6,367.7" fill="none" stroke="#e8242e" stroke-width="1.0" stroke-dasharray="5.5 3"/>
<polyline points="50.0,401.5 52.9,370.2 56.2,368.5 58.9,371.2 61.1,367.9 63.3,375.0 70.0,376.1 78.8,384.0 87.7,381.2 92.1,381.0 98.8,371.9 103.2,364.2 107.6,361.4 112.1,370.4 116.5,366.1 125.4,373.9 129.8,380.8 136.4,367.3 140.9,365.0 149.8,357.2 158.6,369.4 163.1,365.1 171.9,363.0 178.6,363.4 185.2,371.9 191.9,357.1 196.3,361.7 200.7,371.7 205.2,365.1 214.0,369.5 218.5,363.8 222.9,360.2 229.5,370.4 236.2,348.1 240.6,364.5 245.1,355.0 249.5,351.3 258.4,346.2 262.8,360.5 267.2,363.1 276.1,365.1 280.5,370.5 285.0,378.0 293.8,374.4 298.3,367.3" fill="none" stroke="#e8242e" stroke-width="1.0" stroke-dasharray="5.5 3"/>
<polyline points="50.0,395.0 55.0,370.0 60.0,350.0 65.5,302.0 70.0,335.0 75.0,355.0 85.0,360.0 98.0,365.0" fill="none" stroke="#e8242e" stroke-width="1.0" stroke-dasharray="5.5 3"/>
<polyline points="50.0,400.0 53.5,332.4 56.0,365.0 62.0,372.0" fill="none" stroke="#e8242e" stroke-width="1.0" stroke-dasharray="5.5 3"/>
<polyline points="50.0,390.0 57.0,360.0 75.0,362.0 85.0,355.0 91.6,331.0 98.0,350.0 110.0,348.0 128.0,345.0 140.0,352.0" fill="none" stroke="#e8242e" stroke-width="1.0" stroke-dasharray="5.5 3"/>
<polyline points="50.0,385.0 60.0,365.0 100.0,368.0 130.0,362.0 140.0,350.0 148.0,336.7 155.0,348.0 170.0,360.0 190.0,365.0" fill="none" stroke="#e8242e" stroke-width="1.0" stroke-dasharray="5.5 3"/>
<polyline points="50.0,398.0 60.0,375.0 120.0,372.0 160.0,360.0 185.0,355.0 201.0,345.0 210.0,360.0 230.0,365.0" fill="none" stroke="#e8242e" stroke-width="1.0" stroke-dasharray="5.5 3"/>
<polyline points="50.0,380.0 58.0,372.0 73.0,385.0 93.0,403.2" fill="none" stroke="#e8242e" stroke-width="1.0" stroke-dasharray="5.5 3"/>
<polyline points="50.0,395.0 62.0,360.0 75.0,352.0 90.0,358.0 105.0,346.0 120.0,352.0 135.0,342.0 150.0,350.0 163.0,340.0 175.0,352.0 188.0,345.0 200.0,355.0 215.0,343.0 230.0,350.0 243.0,345.0 255.8,344.1" fill="none" stroke="#e8242e" stroke-width="1.0" stroke-dasharray="5.5 3"/>
<polyline points="326.8,323.7 328.7,342.4 330.0,348.0" fill="none" stroke="#5252aa" stroke-width="0.95" stroke-dasharray="1 1.1"/>
<polyline points="332.4,318.1 336.2,331.2 344.6,351.5" fill="none" stroke="#5252aa" stroke-width="0.95" stroke-dasharray="1 1.1"/>
<polyline points="326.0,333.0 346.0,328.5" fill="none" stroke="#5252aa" stroke-width="0.95" stroke-dasharray="1 1.1"/>
<polyline points="375.2,324.2 383.9,349.1 389.7,324.2" fill="none" stroke="#5252aa" stroke-width="0.95" stroke-dasharray="1 1.1"/>
<polyline points="400.1,368.4 404.5,350.9" fill="none" stroke="#5252aa" stroke-width="0.95" stroke-dasharray="1 1.1"/>
<polyline points="390.7,383.4 398.7,380.8 407.4,373.5" fill="none" stroke="#5252aa" stroke-width="0.95" stroke-dasharray="1 1.1"/>
<polyline points="353.8,348.5 357.0,370.0" fill="none" stroke="#5252aa" stroke-width="0.95" stroke-dasharray="1 1.1"/>
<polyline points="375.4,351.5 378.5,373.0" fill="none" stroke="#5252aa" stroke-width="0.95" stroke-dasharray="1 1.1"/>
<polyline points="341.5,385.4 360.0,383.8" fill="none" stroke="#5252aa" stroke-width="0.95" stroke-dasharray="1 1.1"/>
<polyline points="346.0,360.0 352.0,352.0 356.0,364.0" fill="none" stroke="#5252aa" stroke-width="0.95" stroke-dasharray="1 1.1"/>
<polyline points="251.6,350.8 300.0,333.3 326.8,323.7" fill="none" stroke="#4a4a4a" stroke-width="1.0"/>
<polyline points="300.9,341.1 332.4,318.1" fill="none" stroke="#4a4a4a" stroke-width="1.0"/>
<polyline points="255.8,344.1 300.0,344.6 324.9,346.4" fill="none" stroke="#4a4a4a" stroke-width="1.0"/>
<polyline points="249.2,367.4 278.3,378.3 300.0,380.0 343.6,386.9" fill="none" stroke="#4a4a4a" stroke-width="1.0"/>
<polyline points="273.3,382.9 300.0,383.0 343.6,382.2" fill="none" stroke="#4a4a4a" stroke-width="1.0"/>
<polyline points="293.2,370.8 326.1,372.0" fill="none" stroke="#4a4a4a" stroke-width="1.0"/>
<polyline points="291.6,407.4 375.2,324.2" fill="none" stroke="#4a4a4a" stroke-width="1.0"/>
<polyline points="306.5,356.6 362.0,374.0" fill="none" stroke="#4a4a4a" stroke-width="1.0"/>
<polyline points="357.0,353.0 400.1,368.4" fill="none" stroke="#4a4a4a" stroke-width="1.0"/>
<polyline points="318.0,374.0 355.0,364.7 396.5,356.3" fill="none" stroke="#4a4a4a" stroke-width="1.0"/>
<polyline points="340.0,370.0 355.0,369.8 363.7,373.2 390.0,364.7" fill="none" stroke="#4a4a4a" stroke-width="1.0"/>
<polyline points="330.0,386.0 360.8,385.1 390.7,383.4" fill="none" stroke="#4a4a4a" stroke-width="1.0"/>
<rect x="48.5" y="21.5" width="444.5" height="147.5" fill="none" stroke="#222" stroke-width="1.3"/>
<line x1="45.7" y1="150.60" x2="48.5" y2="150.60" stroke="#222" stroke-width="1.1"/>
<text x="43.3" y="153.40" font-size="8.1" text-anchor="end" fill="#222" stroke="#222" stroke-width="0.15">25</text>
<line x1="45.7" y1="125.22" x2="48.5" y2="125.22" stroke="#222" stroke-width="1.1"/>
<text x="43.3" y="128.03" font-size="8.1" text-anchor="end" fill="#222" stroke="#222" stroke-width="0.15">50</text>
<line x1="45.7" y1="99.85" x2="48.5" y2="99.85" stroke="#222" stroke-width="1.1"/>
<text x="43.3" y="102.65" font-size="8.1" text-anchor="end" fill="#222" stroke="#222" stroke-width="0.15">75</text>
<line x1="45.7" y1="74.48" x2="48.5" y2="74.48" stroke="#222" stroke-width="1.1"/>
<text x="43.3" y="77.28" font-size="8.1" text-anchor="end" fill="#222" stroke="#222" stroke-width="0.15">100</text>
<line x1="45.7" y1="49.10" x2="48.5" y2="49.10" stroke="#222" stroke-width="1.1"/>
<text x="43.3" y="51.90" font-size="8.1" text-anchor="end" fill="#222" stroke="#222" stroke-width="0.15">125</text>
<line x1="45.7" y1="23.73" x2="48.5" y2="23.73" stroke="#222" stroke-width="1.1"/>
<text x="43.3" y="26.53" font-size="8.1" text-anchor="end" fill="#222" stroke="#222" stroke-width="0.15">150</text>
<line x1="50.30" y1="169" x2="50.30" y2="171.8" stroke="#222" stroke-width="1.1"/>
<text transform="translate(53.60,174.8) rotate(-90) scale(0.92,1)" font-size="8.5" text-anchor="end" fill="#111" stroke="#111" stroke-width="0.2">Baseline</text>
<line x1="63.66" y1="169" x2="63.66" y2="171.8" stroke="#222" stroke-width="1.1"/>
<text transform="translate(66.96,174.8) rotate(-90) scale(0.92,1)" font-size="8.5" text-anchor="end" fill="#111" stroke="#111" stroke-width="0.2">Month-3</text>
<line x1="77.02" y1="169" x2="77.02" y2="171.8" stroke="#222" stroke-width="1.1"/>
<text transform="translate(80.32,174.8) rotate(-90) scale(0.92,1)" font-size="8.5" text-anchor="end" fill="#111" stroke="#111" stroke-width="0.2">Month-6</text>
<line x1="90.38" y1="169" x2="90.38" y2="171.8" stroke="#222" stroke-width="1.1"/>
<text transform="translate(93.68,174.8) rotate(-90) scale(0.92,1)" font-size="8.5" text-anchor="end" fill="#111" stroke="#111" stroke-width="0.2">Month-9</text>
<line x1="103.74" y1="169" x2="103.74" y2="171.8" stroke="#222" stroke-width="1.1"/>
<text transform="translate(107.04,174.8) rotate(-90) scale(0.92,1)" font-size="8.5" text-anchor="end" fill="#111" stroke="#111" stroke-width="0.2">Month-12</text>
<line x1="117.10" y1="169" x2="117.10" y2="171.8" stroke="#222" stroke-width="1.1"/>
<text transform="translate(120.40,174.8) rotate(-90) scale(0.92,1)" font-size="8.5" text-anchor="end" fill="#111" stroke="#111" stroke-width="0.2">Month-15</text>
<line x1="130.46" y1="169" x2="130.46" y2="171.8" stroke="#222" stroke-width="1.1"/>
<text transform="translate(133.76,174.8) rotate(-90) scale(0.92,1)" font-size="8.5" text-anchor="end" fill="#111" stroke="#111" stroke-width="0.2">Month-18</text>
<line x1="143.82" y1="169" x2="143.82" y2="171.8" stroke="#222" stroke-width="1.1"/>
<text transform="translate(147.12,174.8) rotate(-90) scale(0.92,1)" font-size="8.5" text-anchor="end" fill="#111" stroke="#111" stroke-width="0.2">Month-21</text>
<line x1="157.18" y1="169" x2="157.18" y2="171.8" stroke="#222" stroke-width="1.1"/>
<text transform="translate(160.48,174.8) rotate(-90) scale(0.92,1)" font-size="8.5" text-anchor="end" fill="#111" stroke="#111" stroke-width="0.2">Month-24</text>
<line x1="170.54" y1="169" x2="170.54" y2="171.8" stroke="#222" stroke-width="1.1"/>
<text transform="translate(173.84,174.8) rotate(-90) scale(0.92,1)" font-size="8.5" text-anchor="end" fill="#111" stroke="#111" stroke-width="0.2">Month-27</text>
<line x1="183.90" y1="169" x2="183.90" y2="171.8" stroke="#222" stroke-width="1.1"/>
<text transform="translate(187.20,174.8) rotate(-90) scale(0.92,1)" font-size="8.5" text-anchor="end" fill="#111" stroke="#111" stroke-width="0.2">Month-30</text>
<line x1="197.26" y1="169" x2="197.26" y2="171.8" stroke="#222" stroke-width="1.1"/>
<text transform="translate(200.56,174.8) rotate(-90) scale(0.92,1)" font-size="8.5" text-anchor="end" fill="#111" stroke="#111" stroke-width="0.2">Month-33</text>
<line x1="210.62" y1="169" x2="210.62" y2="171.8" stroke="#222" stroke-width="1.1"/>
<text transform="translate(213.92,174.8) rotate(-90) scale(0.92,1)" font-size="8.5" text-anchor="end" fill="#111" stroke="#111" stroke-width="0.2">Month-36</text>
<line x1="223.98" y1="169" x2="223.98" y2="171.8" stroke="#222" stroke-width="1.1"/>
<text transform="translate(227.28,174.8) rotate(-90) scale(0.92,1)" font-size="8.5" text-anchor="end" fill="#111" stroke="#111" stroke-width="0.2">Month-39</text>
<line x1="237.34" y1="169" x2="237.34" y2="171.8" stroke="#222" stroke-width="1.1"/>
<text transform="translate(240.64,174.8) rotate(-90) scale(0.92,1)" font-size="8.5" text-anchor="end" fill="#111" stroke="#111" stroke-width="0.2">Month-42</text>
<line x1="250.70" y1="169" x2="250.70" y2="171.8" stroke="#222" stroke-width="1.1"/>
<text transform="translate(254.00,174.8) rotate(-90) scale(0.92,1)" font-size="8.5" text-anchor="end" fill="#111" stroke="#111" stroke-width="0.2">Month-45</text>
<line x1="264.06" y1="169" x2="264.06" y2="171.8" stroke="#222" stroke-width="1.1"/>
<text transform="translate(267.36,174.8) rotate(-90) scale(0.92,1)" font-size="8.5" text-anchor="end" fill="#111" stroke="#111" stroke-width="0.2">Month-48</text>
<line x1="277.42" y1="169" x2="277.42" y2="171.8" stroke="#222" stroke-width="1.1"/>
<text transform="translate(280.72,174.8) rotate(-90) scale(0.92,1)" font-size="8.5" text-anchor="end" fill="#111" stroke="#111" stroke-width="0.2">Month-51</text>
<line x1="290.78" y1="169" x2="290.78" y2="171.8" stroke="#222" stroke-width="1.1"/>
<text transform="translate(294.08,174.8) rotate(-90) scale(0.92,1)" font-size="8.5" text-anchor="end" fill="#111" stroke="#111" stroke-width="0.2">Month-54</text>
<line x1="304.14" y1="169" x2="304.14" y2="171.8" stroke="#222" stroke-width="1.1"/>
<text transform="translate(307.44,174.8) rotate(-90) scale(0.92,1)" font-size="8.5" text-anchor="end" fill="#111" stroke="#111" stroke-width="0.2">Month-57</text>
<line x1="317.50" y1="169" x2="317.50" y2="171.8" stroke="#222" stroke-width="1.1"/>
<text transform="translate(320.80,174.8) rotate(-90) scale(0.92,1)" font-size="8.5" text-anchor="end" fill="#111" stroke="#111" stroke-width="0.2">Month-60</text>
<line x1="330.86" y1="169" x2="330.86" y2="171.8" stroke="#222" stroke-width="1.1"/>
<text transform="translate(334.16,174.8) rotate(-90) scale(0.92,1)" font-size="8.5" text-anchor="end" fill="#111" stroke="#111" stroke-width="0.2">Month-63</text>
<line x1="344.22" y1="169" x2="344.22" y2="171.8" stroke="#222" stroke-width="1.1"/>
<text transform="translate(347.52,174.8) rotate(-90) scale(0.92,1)" font-size="8.5" text-anchor="end" fill="#111" stroke="#111" stroke-width="0.2">Month-66</text>
<line x1="357.58" y1="169" x2="357.58" y2="171.8" stroke="#222" stroke-width="1.1"/>
<text transform="translate(360.88,174.8) rotate(-90) scale(0.92,1)" font-size="8.5" text-anchor="end" fill="#111" stroke="#111" stroke-width="0.2">Month-69</text>
<line x1="370.94" y1="169" x2="370.94" y2="171.8" stroke="#222" stroke-width="1.1"/>
<text transform="translate(374.24,174.8) rotate(-90) scale(0.92,1)" font-size="8.5" text-anchor="end" fill="#111" stroke="#111" stroke-width="0.2">Month-72</text>
<line x1="384.30" y1="169" x2="384.30" y2="171.8" stroke="#222" stroke-width="1.1"/>
<text transform="translate(387.60,174.8) rotate(-90) scale(0.92,1)" font-size="8.5" text-anchor="end" fill="#111" stroke="#111" stroke-width="0.2">Month-75</text>
<line x1="397.66" y1="169" x2="397.66" y2="171.8" stroke="#222" stroke-width="1.1"/>
<text transform="translate(400.96,174.8) rotate(-90) scale(0.92,1)" font-size="8.5" text-anchor="end" fill="#111" stroke="#111" stroke-width="0.2">Month-78</text>
<line x1="411.02" y1="169" x2="411.02" y2="171.8" stroke="#222" stroke-width="1.1"/>
<text transform="translate(414.32,174.8) rotate(-90) scale(0.92,1)" font-size="8.5" text-anchor="end" fill="#111" stroke="#111" stroke-width="0.2">Month-81</text>
<line x1="424.38" y1="169" x2="424.38" y2="171.8" stroke="#222" stroke-width="1.1"/>
<text transform="translate(427.68,174.8) rotate(-90) scale(0.92,1)" font-size="8.5" text-anchor="end" fill="#111" stroke="#111" stroke-width="0.2">Month-84</text>
<line x1="437.74" y1="169" x2="437.74" y2="171.8" stroke="#222" stroke-width="1.1"/>
<text transform="translate(441.04,174.8) rotate(-90) scale(0.92,1)" font-size="8.5" text-anchor="end" fill="#111" stroke="#111" stroke-width="0.2">Month-87</text>
<line x1="451.10" y1="169" x2="451.10" y2="171.8" stroke="#222" stroke-width="1.1"/>
<text transform="translate(454.40,174.8) rotate(-90) scale(0.92,1)" font-size="8.5" text-anchor="end" fill="#111" stroke="#111" stroke-width="0.2">Month-90</text>
<line x1="464.46" y1="169" x2="464.46" y2="171.8" stroke="#222" stroke-width="1.1"/>
<text transform="translate(467.76,174.8) rotate(-90) scale(0.92,1)" font-size="8.5" text-anchor="end" fill="#111" stroke="#111" stroke-width="0.2">Month-93</text>
<line x1="477.82" y1="169" x2="477.82" y2="171.8" stroke="#222" stroke-width="1.1"/>
<text transform="translate(481.12,174.8) rotate(-90) scale(0.92,1)" font-size="8.5" text-anchor="end" fill="#111" stroke="#111" stroke-width="0.2">Month-96</text>
<line x1="491.18" y1="169" x2="491.18" y2="171.8" stroke="#222" stroke-width="1.1"/>
<text transform="translate(494.48,174.8) rotate(-90) scale(0.92,1)" font-size="8.5" text-anchor="end" fill="#111" stroke="#111" stroke-width="0.2">Month-99</text>
<text transform="translate(22.6,95.25) rotate(-90) scale(0.77,1)" font-size="8.4" font-weight="bold" text-anchor="middle" fill="#111" stroke="#111" stroke-width="0.22">Antithrombin (%)</text>
<text transform="translate(270.8,219.5) scale(0.76,1)" font-size="8.2" font-weight="bold" text-anchor="middle" fill="#111" stroke="#111" stroke-width="0.22">Study visit</text>
<line x1="118.7" y1="232.3" x2="143.9" y2="232.3" stroke="#d23040" stroke-width="1.1" stroke-dasharray="3 2.7 5.5 2.7 5.5 2.7 3"/>
<text transform="translate(147.5,234.60000000000002) scale(0.93,1)" font-size="7.8" fill="#111" stroke="#111" stroke-width="0.12">Original dose regimen</text>
<line x1="226.3" y1="232.3" x2="250.5" y2="232.3" stroke="#505070" stroke-width="1" stroke-dasharray="1 1"/>
<text transform="translate(253.8,234.60000000000002) scale(0.93,1)" font-size="7.8" fill="#111" stroke="#111" stroke-width="0.12">AT-based dose regimen</text>
<line x1="337.5" y1="232.3" x2="361.3" y2="232.3" stroke="#333" stroke-width="1.3"/>
<text transform="translate(365,234.60000000000002) scale(0.93,1)" font-size="7.8" fill="#111" stroke="#111" stroke-width="0.12">2020 Dose pause</text>
<text x="6.6" y="16.6" font-size="12.4" font-weight="bold" fill="#000" stroke="#000" stroke-width="0.35">A</text>
<rect x="48.5" y="266.5" width="442.5" height="140.5" fill="none" stroke="#222" stroke-width="1.3"/>
<line x1="45.7" y1="381.25" x2="48.5" y2="381.25" stroke="#222" stroke-width="1.1"/>
<text x="43.3" y="384.05" font-size="8.1" text-anchor="end" fill="#222" stroke="#222" stroke-width="0.15">50</text>
<line x1="45.7" y1="353.06" x2="48.5" y2="353.06" stroke="#222" stroke-width="1.1"/>
<text x="43.3" y="355.87" font-size="8.1" text-anchor="end" fill="#222" stroke="#222" stroke-width="0.15">100</text>
<line x1="45.7" y1="324.88" x2="48.5" y2="324.88" stroke="#222" stroke-width="1.1"/>
<text x="43.3" y="327.68" font-size="8.1" text-anchor="end" fill="#222" stroke="#222" stroke-width="0.15">150</text>
<line x1="45.7" y1="296.69" x2="48.5" y2="296.69" stroke="#222" stroke-width="1.1"/>
<text x="43.3" y="299.50" font-size="8.1" text-anchor="end" fill="#222" stroke="#222" stroke-width="0.15">200</text>
<line x1="45.7" y1="268.51" x2="48.5" y2="268.51" stroke="#222" stroke-width="1.1"/>
<text x="43.3" y="271.31" font-size="8.1" text-anchor="end" fill="#222" stroke="#222" stroke-width="0.15">250</text>
<line x1="50.00" y1="407" x2="50.00" y2="409.8" stroke="#222" stroke-width="1.1"/>
<text transform="translate(53.30,412.8) rotate(-90) scale(0.92,1)" font-size="8.5" text-anchor="end" fill="#111" stroke="#111" stroke-width="0.2">Baseline</text>
<line x1="63.30" y1="407" x2="63.30" y2="409.8" stroke="#222" stroke-width="1.1"/>
<text transform="translate(66.60,412.8) rotate(-90) scale(0.92,1)" font-size="8.5" text-anchor="end" fill="#111" stroke="#111" stroke-width="0.2">Month-3</text>
<line x1="76.60" y1="407" x2="76.60" y2="409.8" stroke="#222" stroke-width="1.1"/>
<text transform="translate(79.90,412.8) rotate(-90) scale(0.92,1)" font-size="8.5" text-anchor="end" fill="#111" stroke="#111" stroke-width="0.2">Month-6</text>
<line x1="89.90" y1="407" x2="89.90" y2="409.8" stroke="#222" stroke-width="1.1"/>
<text transform="translate(93.20,412.8) rotate(-90) scale(0.92,1)" font-size="8.5" text-anchor="end" fill="#111" stroke="#111" stroke-width="0.2">Month-9</text>
<line x1="103.20" y1="407" x2="103.20" y2="409.8" stroke="#222" stroke-width="1.1"/>
<text transform="translate(106.50,412.8) rotate(-90) scale(0.92,1)" font-size="8.5" text-anchor="end" fill="#111" stroke="#111" stroke-width="0.2">Month-12</text>
<line x1="116.50" y1="407" x2="116.50" y2="409.8" stroke="#222" stroke-width="1.1"/>
<text transform="translate(119.80,412.8) rotate(-90) scale(0.92,1)" font-size="8.5" text-anchor="end" fill="#111" stroke="#111" stroke-width="0.2">Month-15</text>
<line x1="129.80" y1="407" x2="129.80" y2="409.8" stroke="#222" stroke-width="1.1"/>
<text transform="translate(133.10,412.8) rotate(-90) scale(0.92,1)" font-size="8.5" text-anchor="end" fill="#111" stroke="#111" stroke-width="0.2">Month-18</text>
<line x1="143.10" y1="407" x2="143.10" y2="409.8" stroke="#222" stroke-width="1.1"/>
<text transform="translate(146.40,412.8) rotate(-90) scale(0.92,1)" font-size="8.5" text-anchor="end" fill="#111" stroke="#111" stroke-width="0.2">Month-21</text>
<line x1="156.40" y1="407" x2="156.40" y2="409.8" stroke="#222" stroke-width="1.1"/>
<text transform="translate(159.70,412.8) rotate(-90) scale(0.92,1)" font-size="8.5" text-anchor="end" fill="#111" stroke="#111" stroke-width="0.2">Month-24</text>
<line x1="169.70" y1="407" x2="169.70" y2="409.8" stroke="#222" stroke-width="1.1"/>
<text transform="translate(173.00,412.8) rotate(-90) scale(0.92,1)" font-size="8.5" text-anchor="end" fill="#111" stroke="#111" stroke-width="0.2">Month-27</text>
<line x1="183.00" y1="407" x2="183.00" y2="409.8" stroke="#222" stroke-width="1.1"/>
<text transform="translate(186.30,412.8) rotate(-90) scale(0.92,1)" font-size="8.5" text-anchor="end" fill="#111" stroke="#111" stroke-width="0.2">Month-30</text>
<line x1="196.30" y1="407" x2="196.30" y2="409.8" stroke="#222" stroke-width="1.1"/>
<text transform="translate(199.60,412.8) rotate(-90) scale(0.92,1)" font-size="8.5" text-anchor="end" fill="#111" stroke="#111" stroke-width="0.2">Month-33</text>
<line x1="209.60" y1="407" x2="209.60" y2="409.8" stroke="#222" stroke-width="1.1"/>
<text transform="translate(212.90,412.8) rotate(-90) scale(0.92,1)" font-size="8.5" text-anchor="end" fill="#111" stroke="#111" stroke-width="0.2">Month-36</text>
<line x1="222.90" y1="407" x2="222.90" y2="409.8" stroke="#222" stroke-width="1.1"/>
<text transform="translate(226.20,412.8) rotate(-90) scale(0.92,1)" font-size="8.5" text-anchor="end" fill="#111" stroke="#111" stroke-width="0.2">Month-39</text>
<line x1="236.20" y1="407" x2="236.20" y2="409.8" stroke="#222" stroke-width="1.1"/>
<text transform="translate(239.50,412.8) rotate(-90) scale(0.92,1)" font-size="8.5" text-anchor="end" fill="#111" stroke="#111" stroke-width="0.2">Month-42</text>
<line x1="249.50" y1="407" x2="249.50" y2="409.8" stroke="#222" stroke-width="1.1"/>
<text transform="translate(252.80,412.8) rotate(-90) scale(0.92,1)" font-size="8.5" text-anchor="end" fill="#111" stroke="#111" stroke-width="0.2">Month-45</text>
<line x1="262.80" y1="407" x2="262.80" y2="409.8" stroke="#222" stroke-width="1.1"/>
<text transform="translate(266.10,412.8) rotate(-90) scale(0.92,1)" font-size="8.5" text-anchor="end" fill="#111" stroke="#111" stroke-width="0.2">Month-48</text>
<line x1="276.10" y1="407" x2="276.10" y2="409.8" stroke="#222" stroke-width="1.1"/>
<text transform="translate(279.40,412.8) rotate(-90) scale(0.92,1)" font-size="8.5" text-anchor="end" fill="#111" stroke="#111" stroke-width="0.2">Month-51</text>
<line x1="289.40" y1="407" x2="289.40" y2="409.8" stroke="#222" stroke-width="1.1"/>
<text transform="translate(292.70,412.8) rotate(-90) scale(0.92,1)" font-size="8.5" text-anchor="end" fill="#111" stroke="#111" stroke-width="0.2">Month-54</text>
<line x1="302.70" y1="407" x2="302.70" y2="409.8" stroke="#222" stroke-width="1.1"/>
<text transform="translate(306.00,412.8) rotate(-90) scale(0.92,1)" font-size="8.5" text-anchor="end" fill="#111" stroke="#111" stroke-width="0.2">Month-57</text>
<line x1="316.00" y1="407" x2="316.00" y2="409.8" stroke="#222" stroke-width="1.1"/>
<text transform="translate(319.30,412.8) rotate(-90) scale(0.92,1)" font-size="8.5" text-anchor="end" fill="#111" stroke="#111" stroke-width="0.2">Month-60</text>
<line x1="329.30" y1="407" x2="329.30" y2="409.8" stroke="#222" stroke-width="1.1"/>
<text transform="translate(332.60,412.8) rotate(-90) scale(0.92,1)" font-size="8.5" text-anchor="end" fill="#111" stroke="#111" stroke-width="0.2">Month-63</text>
<line x1="342.60" y1="407" x2="342.60" y2="409.8" stroke="#222" stroke-width="1.1"/>
<text transform="translate(345.90,412.8) rotate(-90) scale(0.92,1)" font-size="8.5" text-anchor="end" fill="#111" stroke="#111" stroke-width="0.2">Month-66</text>
<line x1="355.90" y1="407" x2="355.90" y2="409.8" stroke="#222" stroke-width="1.1"/>
<text transform="translate(359.20,412.8) rotate(-90) scale(0.92,1)" font-size="8.5" text-anchor="end" fill="#111" stroke="#111" stroke-width="0.2">Month-69</text>
<line x1="369.20" y1="407" x2="369.20" y2="409.8" stroke="#222" stroke-width="1.1"/>
<text transform="translate(372.50,412.8) rotate(-90) scale(0.92,1)" font-size="8.5" text-anchor="end" fill="#111" stroke="#111" stroke-width="0.2">Month-72</text>
<line x1="382.50" y1="407" x2="382.50" y2="409.8" stroke="#222" stroke-width="1.1"/>
<text transform="translate(385.80,412.8) rotate(-90) scale(0.92,1)" font-size="8.5" text-anchor="end" fill="#111" stroke="#111" stroke-width="0.2">Month-75</text>
<line x1="395.80" y1="407" x2="395.80" y2="409.8" stroke="#222" stroke-width="1.1"/>
<text transform="translate(399.10,412.8) rotate(-90) scale(0.92,1)" font-size="8.5" text-anchor="end" fill="#111" stroke="#111" stroke-width="0.2">Month-78</text>
<line x1="409.10" y1="407" x2="409.10" y2="409.8" stroke="#222" stroke-width="1.1"/>
<text transform="translate(412.40,412.8) rotate(-90) scale(0.92,1)" font-size="8.5" text-anchor="end" fill="#111" stroke="#111" stroke-width="0.2">Month-81</text>
<line x1="422.40" y1="407" x2="422.40" y2="409.8" stroke="#222" stroke-width="1.1"/>
<text transform="translate(425.70,412.8) rotate(-90) scale(0.92,1)" font-size="8.5" text-anchor="end" fill="#111" stroke="#111" stroke-width="0.2">Month-84</text>
<line x1="435.70" y1="407" x2="435.70" y2="409.8" stroke="#222" stroke-width="1.1"/>
<text transform="translate(439.00,412.8) rotate(-90) scale(0.92,1)" font-size="8.5" text-anchor="end" fill="#111" stroke="#111" stroke-width="0.2">Month-87</text>
<line x1="449.00" y1="407" x2="449.00" y2="409.8" stroke="#222" stroke-width="1.1"/>
<text transform="translate(452.30,412.8) rotate(-90) scale(0.92,1)" font-size="8.5" text-anchor="end" fill="#111" stroke="#111" stroke-width="0.2">Month-90</text>
<line x1="462.30" y1="407" x2="462.30" y2="409.8" stroke="#222" stroke-width="1.1"/>
<text transform="translate(465.60,412.8) rotate(-90) scale(0.92,1)" font-size="8.5" text-anchor="end" fill="#111" stroke="#111" stroke-width="0.2">Month-93</text>
<line x1="475.60" y1="407" x2="475.60" y2="409.8" stroke="#222" stroke-width="1.1"/>
<text transform="translate(478.90,412.8) rotate(-90) scale(0.92,1)" font-size="8.5" text-anchor="end" fill="#111" stroke="#111" stroke-width="0.2">Month-96</text>
<line x1="488.90" y1="407" x2="488.90" y2="409.8" stroke="#222" stroke-width="1.1"/>
<text transform="translate(492.20,412.8) rotate(-90) scale(0.92,1)" font-size="8.5" text-anchor="end" fill="#111" stroke="#111" stroke-width="0.2">Month-99</text>
<text transform="translate(22.6,336.75) rotate(-90) scale(0.77,1)" font-size="8.4" font-weight="bold" text-anchor="middle" fill="#111" stroke="#111" stroke-width="0.22">Peak thrombin (nM)</text>
<text transform="translate(270.8,457.5) scale(0.76,1)" font-size="8.2" font-weight="bold" text-anchor="middle" fill="#111" stroke="#111" stroke-width="0.22">Study visit</text>
<line x1="117.5" y1="470.3" x2="142.70000000000002" y2="470.3" stroke="#d23040" stroke-width="1.1" stroke-dasharray="3 2.7 5.5 2.7 5.5 2.7 3"/>
<text transform="translate(146.3,473.1) scale(0.93,1)" font-size="7.8" fill="#111" stroke="#111" stroke-width="0.12">Original dose regimen</text>
<line x1="225.10000000000002" y1="470.3" x2="249.3" y2="470.3" stroke="#505070" stroke-width="1" stroke-dasharray="1 1"/>
<text transform="translate(252.60000000000002,473.1) scale(0.93,1)" font-size="7.8" fill="#111" stroke="#111" stroke-width="0.12">AT-based dose regimen</text>
<line x1="336.3" y1="470.3" x2="360.1" y2="470.3" stroke="#333" stroke-width="1.3"/>
<text transform="translate(363.8,473.1) scale(0.93,1)" font-size="7.8" fill="#111" stroke="#111" stroke-width="0.12">2020 Dose pause</text>
<text x="6.6" y="260.9" font-size="12.4" font-weight="bold" fill="#000" stroke="#000" stroke-width="0.35">B</text>
<rect x="0.5" y="0.5" width="519" height="480" fill="none" stroke="#666" stroke-width="1"/>
</svg></body></html>
